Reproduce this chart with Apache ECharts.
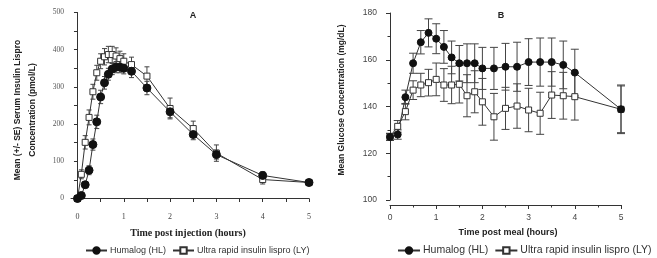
<!DOCTYPE html>
<html><head><meta charset="utf-8">
<script src="https://cdn.jsdelivr.net/npm/echarts@6/dist/echarts.min.js"></script>
<style>html,body{margin:0;padding:0;background:#fff}#c{width:657px;height:258px}</style>
</head><body><div id="c"></div>
<script>
// ---- Panel A: serum insulin lispro (pmol/L) ----
const timeA_min = [0,5,10,15,20,25,30,35,40,45,50,55,60,70,90,120,150,180,240,300];
const hlA    = [0, 8, 37, 76,145,206,273,311,334,348,353,353,350,342,297,233,172,118, 62, 43];
const hlA_se = [2, 5,  8, 12, 15, 18, 18, 17, 16, 15, 15, 15, 15, 17, 18, 16, 14, 12, 10,  6];
const lyA    = [0,65,151,218,287,338,369,381,387,387,383,376,369,360,329,242,188,122, 51, 43];
const lyA_se = [2,12, 18, 20, 20, 20, 20, 22, 22, 22, 22, 20, 20, 20, 25, 28, 20, 22, 12,  6];
// ---- Panel B: glucose (mg/dL) ----
const timeB_min = [0,10,20,30,40,50,60,70,80,90,100,110,120,135,150,165,180,195,210,225,240,300];
const hlB    = [127,128,144,158.5,167.5,171.5,169,165.5,161,158.5,158.5,158.5,156.3,156.3,157,157,159,159,159,157.8,154.5,138.8];
const hlB_se = [1.5,2,3,4.3,5,6,6.4,7,7,7.6,8.3,8.3,9,9,10,10.5,10,10.3,10.3,10.2,10,10.4];
const lyB    = [127,131.5,137.8,147,149.2,150.2,151.6,149.2,149.2,149.5,144.6,146.3,142,135.6,139.2,140.2,138.5,137.1,144.9,144.6,144.2,138.8];
const lyB_se = [1.5,2.5,3.5,4,5,5.7,7,7,8,8,9,9,10,10,9,9.5,9.3,9,10,10,10,10];
// ---- tick labels ----
const xLabels = [0,1,2,3,4,5];
const xTicksA = [0,0.5,1,1.5,2,2.5,3,3.5,4,4.5,5];
const yLabelsA = [0,100,200,300,400,500];
const yTicksA = [0,50,100,150,200,250,300,350,400,450,500];
const names = ['Humalog (HL)','Ultra rapid insulin lispro (LY)'];

const tA = timeA_min.map(m=>m/60), tB = timeB_min.map(m=>m/60);
const AX = '#333';

function errBars(t, m, se, xi, yi, cap){
  return {type:'custom', xAxisIndex:xi, yAxisIndex:yi, z:1, silent:true, clip:false,
    data: t.map((x,i)=>[x, m[i]-se[i], m[i]+se[i]]),
    encode:{x:0, y:[1,2]},
    renderItem:(p,api)=>{
      const x=api.value(0), lo=api.coord([x,api.value(1)]), hi=api.coord([x,api.value(2)]);
      const st={stroke:'#444', lineWidth:1};
      return {type:'group', children:[
        {type:'line', shape:{x1:lo[0],y1:lo[1],x2:hi[0],y2:hi[1]}, style:st},
        {type:'line', shape:{x1:lo[0]-cap,y1:lo[1],x2:lo[0]+cap,y2:lo[1]}, style:st},
        {type:'line', shape:{x1:hi[0]-cap,y1:hi[1],x2:hi[0]+cap,y2:hi[1]}, style:st}]};
    }};
}
function lineS(name, t, m, xi, yi, sym, size){
  return {type:'line', name, xAxisIndex:xi, yAxisIndex:yi, z:3,
    data: t.map((x,i)=>[x,m[i]]), symbol:sym, symbolSize:size, showSymbol:true,
    lineStyle:{color:'#333', width:1},
    itemStyle: sym==='circle' ? {color:'#111', borderColor:'#111', borderWidth:1}
                              : {color:'#fff', borderColor:'#333', borderWidth:1},
    emphasis:{disabled:true}, animation:false};
}
const mainAxisStyle = {axisLine:{show:true, lineStyle:{color:AX, width:1}}, splitLine:{show:false}};

const option = {
  animation:false,
  grid:[
    {left:71, top:12.5, width:238, height:189.5},
    {left:390, top:13, width:231, height:187}
  ],
  xAxis:[
    {gridIndex:0, type:'value', min:-0.14, max:5, position:'bottom', ...mainAxisStyle,
     axisTick:{customValues:xTicksA, length:3.5, lineStyle:{color:AX}},
     axisLabel:{customValues:xLabels, margin:11, fontFamily:'Liberation Serif', fontSize:8, color:'#444'}},
    {gridIndex:1, type:'value', min:0, max:5, interval:1, offset:5, position:'bottom', ...mainAxisStyle,
     axisTick:{length:4, lineStyle:{color:AX}},
     minorTick:{show:true, splitNumber:2, length:2.5, lineStyle:{color:AX}},
     axisLabel:{margin:8, fontFamily:'Liberation Sans', fontSize:8.5, color:'#444'}}
  ],
  yAxis:[
    {gridIndex:0, type:'value', min:-9.4, max:500, position:'left', ...mainAxisStyle,
     axisTick:{show:true, customValues:yTicksA, length:3.5, lineStyle:{color:AX}},
     axisLabel:{customValues:yLabelsA, margin:7, fontFamily:'Liberation Serif', fontSize:7.5, color:'#555'}},
    {gridIndex:1, type:'value', min:100, max:180, interval:20, offset:7, position:'left', ...mainAxisStyle,
     axisTick:{show:true, length:4, lineStyle:{color:AX}},
     minorTick:{show:true, splitNumber:2, length:2.5, lineStyle:{color:AX}},
     axisLabel:{margin:6, fontFamily:'Liberation Sans', fontSize:8.5, color:'#444'}}
  ],
  legend:[
    {data:names, left:80, top:241, itemWidth:21, itemHeight:8, itemGap:6,
     textStyle:{fontFamily:'Liberation Sans', fontSize:9, color:'#333', padding:[0,0,0,-2]}},
    {data:names, left:392, top:240, itemWidth:22, itemHeight:8, itemGap:6,
     textStyle:{fontFamily:'Liberation Sans', fontSize:10.5, color:'#333', padding:[0,0,0,-2]}}
  ],
  graphic:[
    {type:'text', x:193, y:16, style:{text:'A', font:'bold 9px Liberation Sans', fill:'#222', align:'center', verticalAlign:'middle'}},
    {type:'text', x:501, y:16, style:{text:'B', font:'bold 9px Liberation Sans', fill:'#222', align:'center', verticalAlign:'middle'}},
    {type:'text', x:18, y:110, rotation:Math.PI/2, style:{text:'Mean (+/- SE) Serum Insulin Lispro', font:'bold 8.5px Liberation Sans', fill:'#222', align:'center', verticalAlign:'middle'}},
    {type:'text', x:33, y:110, rotation:Math.PI/2, style:{text:'Concentration (pmol/L)', font:'bold 8.5px Liberation Sans', fill:'#222', align:'center', verticalAlign:'middle'}},
    {type:'text', x:342, y:100, rotation:Math.PI/2, style:{text:'Mean Glucose Concentration (mg/dL)', font:'bold 8.5px Liberation Sans', fill:'#222', align:'center', verticalAlign:'middle'}},
    {type:'text', x:188, y:233, style:{text:'Time post injection (hours)', font:'bold 10px Liberation Serif', fill:'#222', align:'center', verticalAlign:'middle'}},
    {type:'text', x:508, y:233, style:{text:'Time post meal (hours)', font:'bold 9px Liberation Sans', fill:'#222', align:'center', verticalAlign:'middle'}}
  ],
  series:[
    errBars(tA, lyA, lyA_se, 0, 0, 2.5),
    errBars(tA, hlA, hlA_se, 0, 0, 2.5),
    lineS(names[1], tA, lyA, 0, 0, 'rect', 6),
    lineS(names[0], tA, hlA, 0, 0, 'circle', 8),
    errBars(tB, lyB, lyB_se, 1, 1, 4),
    errBars(tB, hlB, hlB_se, 1, 1, 4),
    lineS(names[1], tB, lyB, 1, 1, 'rect', 6),
    lineS(names[0], tB, hlB, 1, 1, 'circle', 7)
  ]
};
const chart = echarts.init(document.getElementById('c'), null, {renderer:'canvas'});
chart.setOption(option);
</script></body></html>
